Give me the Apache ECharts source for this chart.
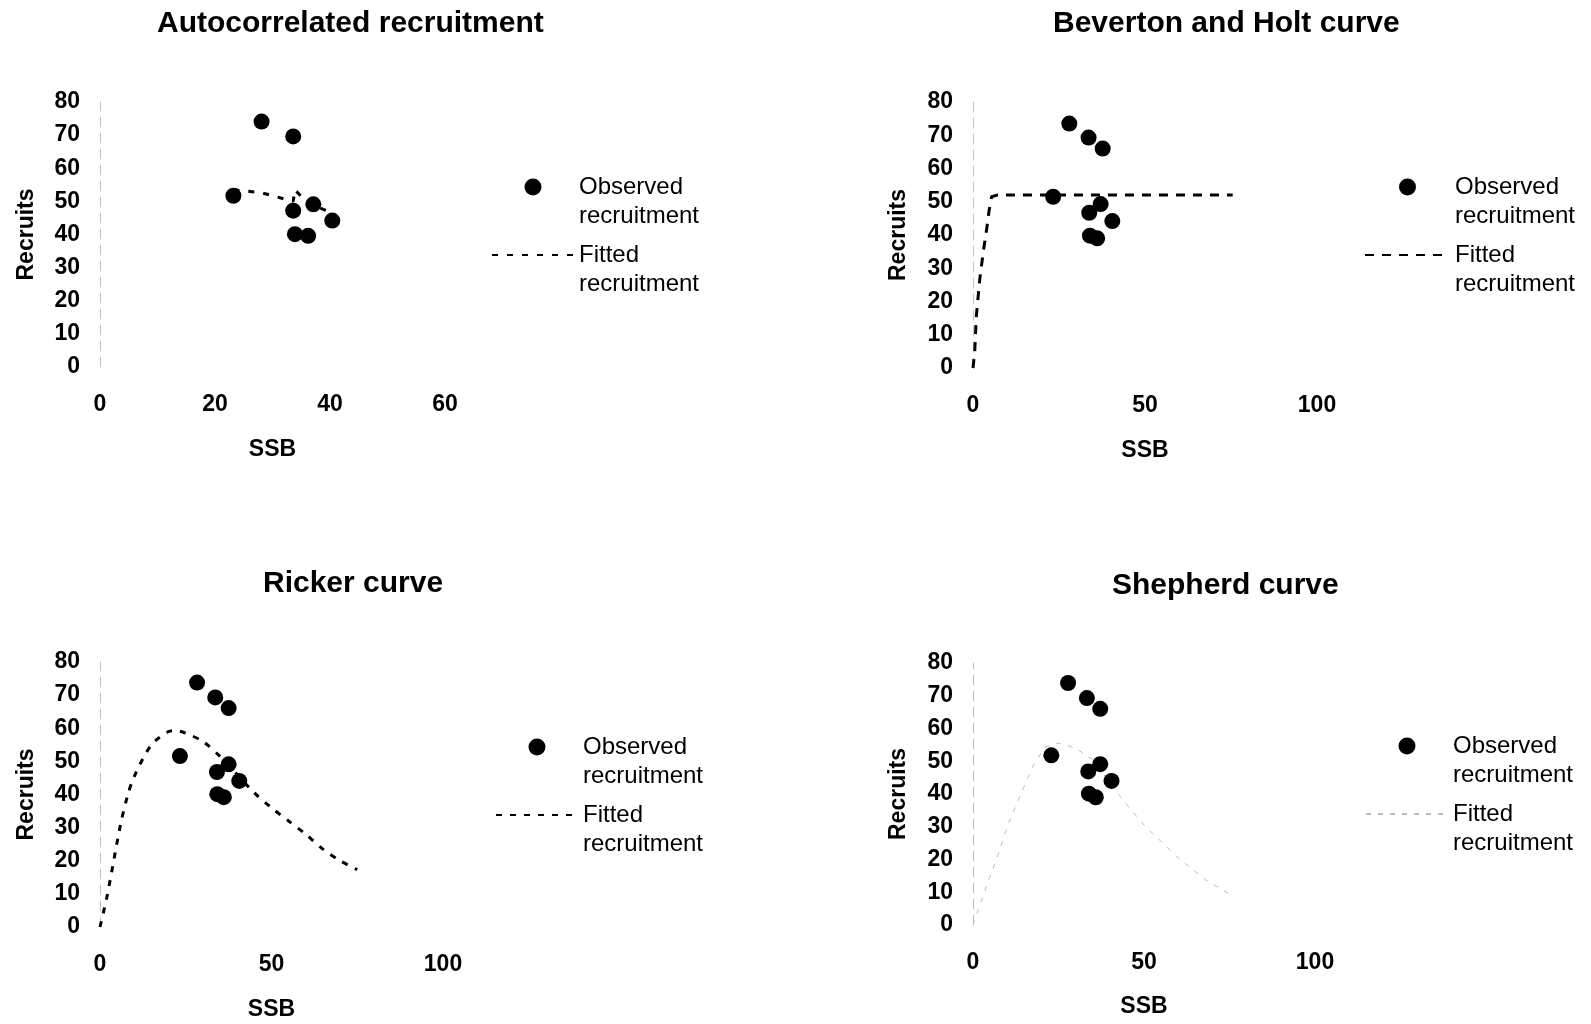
<!DOCTYPE html>
<html>
<head>
<meta charset="utf-8">
<script src="https://cdn.jsdelivr.net/npm/echarts@6/dist/echarts.min.js"></script>
<style>
html,body{margin:0;padding:0;background:#fff;}
#chart{width:1591px;height:1024px;}
</style>
</head>
<body>
<div id="chart"></div>
<script>
// ---- Data ----
const PANEL_TITLES = ['Autocorrelated recruitment', 'Beverton and Holt curve', 'Ricker curve', 'Shepherd curve'];
const X_NAME = 'SSB';
const Y_NAME = 'Recruits';
const LEGEND_OBS = 'Observed\nrecruitment';
const LEGEND_FIT = 'Fitted\nrecruitment';

// Panel 1: autocorrelated recruitment
const AUTO_OBS_SSB = [23.2, 28.1, 33.6, 33.6, 33.9, 36.2, 37.1, 40.4];
const AUTO_OBS_REC = [51.7, 74.1, 69.6, 47.2, 40.1, 39.6, 49.1, 44.2];
const AUTO_FIT_SSB = [23.2, 28.1, 33.6, 33.6, 33.9, 36.2, 37.1, 40.4];
const AUTO_FIT_REC = [53.5, 52.6, 50.0, 49.8, 53.5, 49.3, 48.8, 46.5];

// Panel 2: Beverton and Holt
const BH_OBS_SSB = [28.0, 33.6, 37.7, 23.3, 37.1, 33.8, 40.5, 34.0, 36.1];
const BH_OBS_REC = [73.5, 69.3, 66.0, 51.5, 49.3, 46.7, 44.2, 39.8, 39.0];
const BH_FIT_SSB = [0, 0.5, 1, 2, 3, 4, 4.7, 5.4, 7, 20, 40, 60, 75.5];
const BH_FIT_REC = [0, 5, 16, 27, 35, 42, 47.5, 51.5, 52, 52, 52, 52, 52];

// Panel 3: Ricker
const RK_OBS_SSB = [28.3, 33.6, 37.5, 23.3, 37.5, 34.1, 40.6, 34.2, 36.1];
const RK_OBS_REC = [73.8, 69.3, 66.1, 51.6, 49.1, 46.8, 44.1, 40.1, 39.2];
const RK_FIT_SSB = [0, 2, 4, 6, 8, 10, 15, 20, 22, 25, 30, 35, 40, 45, 50, 55, 60, 65, 70, 75];
const RK_FIT_REC = [0, 9, 20, 31, 39.5, 45.5, 55, 59, 59.3, 58.5, 56, 51.5, 46, 40.5, 36, 32, 28, 23.5, 20, 17.3];

// Panel 4: Shepherd
const SH_OBS_SSB = [27.8, 33.3, 37.2, 22.9, 37.2, 33.7, 40.5, 33.9, 35.9];
const SH_OBS_REC = [73.9, 69.3, 66.0, 51.8, 49.1, 46.9, 44.0, 40.1, 39.0];
const SH_FIT_SSB = [0, 2, 4, 7, 10, 14, 17.5, 21, 25, 30, 35, 40, 43.4, 50, 60, 68, 75];
const SH_FIT_REC = [0, 6, 12, 20.5, 30, 40, 48.4, 54.3, 55.5, 54, 50.5, 43.5, 38.7, 30.5, 20.5, 13.8, 9.5];

const Y_TICKS = [0, 80, 10];          // min, max, interval
const X_TICKS = [[0, 60, 20], [0, 100, 50], [0, 100, 50], [0, 100, 50]];

// ---- Layout (pixels) ----
const GRIDS = [
  {left: 100, top: 102, width: 345, height: 265},
  {left: 973, top: 102, width: 344, height: 266},
  {left: 100, top: 662, width: 343, height: 265},
  {left: 973, top: 663, width: 342, height: 262}
];
const TITLE_POS = [[157, 9], [1053, 9], [263, 569], [1112, 571]];
const LEGEND_POS = [[491, 143.5, 82], [1364, 143.5, 85], [495, 703.5, 82], [1365, 702.5, 82]];
const Y_NAME_GAP = [62, 63, 62, 63];
const X_NAME_GAP = [71, 71, 71, 70];

const zip = (a, b) => a.map((v, i) => [v, b[i]]);

const OBS = [[AUTO_OBS_SSB, AUTO_OBS_REC], [BH_OBS_SSB, BH_OBS_REC], [RK_OBS_SSB, RK_OBS_REC], [SH_OBS_SSB, SH_OBS_REC]];
const FIT = [[AUTO_FIT_SSB, AUTO_FIT_REC], [BH_FIT_SSB, BH_FIT_REC], [RK_FIT_SSB, RK_FIT_REC], [SH_FIT_SSB, SH_FIT_REC]];
const FIT_STYLE = [
  {color: '#000', width: 3, type: [6, 9]},
  {color: '#000', width: 3, type: [9, 8]},
  {color: '#000', width: 3, type: [6, 8]},
  {color: '#bdbdbd', width: 1, type: [5, 7]}
];

const FONT = 'Liberation Sans, Arial, sans-serif';

const option = {
  animation: false,
  backgroundColor: '#fff',
  title: PANEL_TITLES.map((t, i) => ({
    text: t, left: TITLE_POS[i][0], top: TITLE_POS[i][1], padding: 0,
    textStyle: {fontFamily: FONT, fontSize: 30, fontWeight: 'bold', color: '#000'}
  })),
  grid: GRIDS.map(g => Object.assign({containLabel: false}, g)),
  xAxis: X_TICKS.map((t, i) => ({
    type: 'value', gridIndex: i, min: t[0], max: t[1], interval: t[2],
    name: X_NAME, nameLocation: 'middle', nameGap: X_NAME_GAP[i],
    nameTextStyle: {fontFamily: FONT, fontSize: 23, fontWeight: 'bold', color: '#000'},
    axisLine: {show: false}, axisTick: {show: false}, splitLine: {show: false},
    axisLabel: {margin: 26, fontFamily: FONT, fontSize: 23, fontWeight: 'bold', color: '#000'}
  })),
  yAxis: GRIDS.map((g, i) => ({
    type: 'value', gridIndex: i, min: Y_TICKS[0], max: Y_TICKS[1], interval: Y_TICKS[2],
    name: Y_NAME, nameLocation: 'middle', nameGap: Y_NAME_GAP[i],
    nameTextStyle: {fontFamily: FONT, fontSize: 23, fontWeight: 'bold', color: '#000'},
    axisLine: {show: true, lineStyle: {color: '#c4c4c4', width: 1, type: [10, 6]}},
    axisTick: {show: false}, splitLine: {show: false},
    axisLabel: {margin: 20, fontFamily: FONT, fontSize: 23, fontWeight: 'bold', color: '#000'}
  })),
  legend: LEGEND_POS.map((p, i) => ({
    orient: 'vertical', left: p[0], top: p[1], padding: 0,
    itemWidth: p[2], itemHeight: 17, itemGap: -19, selectedMode: false,
    data: [
      {name: 'obs_' + i},
      {name: 'fit_' + i, itemStyle: {color: 'rgba(0,0,0,0)', opacity: 0, borderWidth: 0}}
    ],
    // leading blank line puts the first text line level with the legend icon
    formatter: n => ' \n' + (n.indexOf('obs') === 0 ? LEGEND_OBS : LEGEND_FIT),
    textStyle: {fontFamily: FONT, fontSize: 24, lineHeight: 29, color: '#000'}
  })),
  series: []
};

OBS.forEach((o, i) => {
  option.series.push({
    name: 'obs_' + i, type: 'scatter', xAxisIndex: i, yAxisIndex: i,
    symbol: 'circle', symbolSize: 16, itemStyle: {color: '#000', opacity: 1},
    data: zip(o[0], o[1]), z: 3
  });
  option.series.push({
    name: 'fit_' + i, type: 'line', xAxisIndex: i, yAxisIndex: i,
    symbol: 'none', showSymbol: false, smooth: i === 2 ? 0.3 : false,
    lineStyle: FIT_STYLE[i], itemStyle: {color: FIT_STYLE[i].color},
    data: zip(FIT[i][0], FIT[i][1]), z: 2
  });
});

const chart = echarts.init(document.getElementById('chart'), null, {renderer: 'canvas'});
chart.setOption(option);
</script>
</body>
</html>
